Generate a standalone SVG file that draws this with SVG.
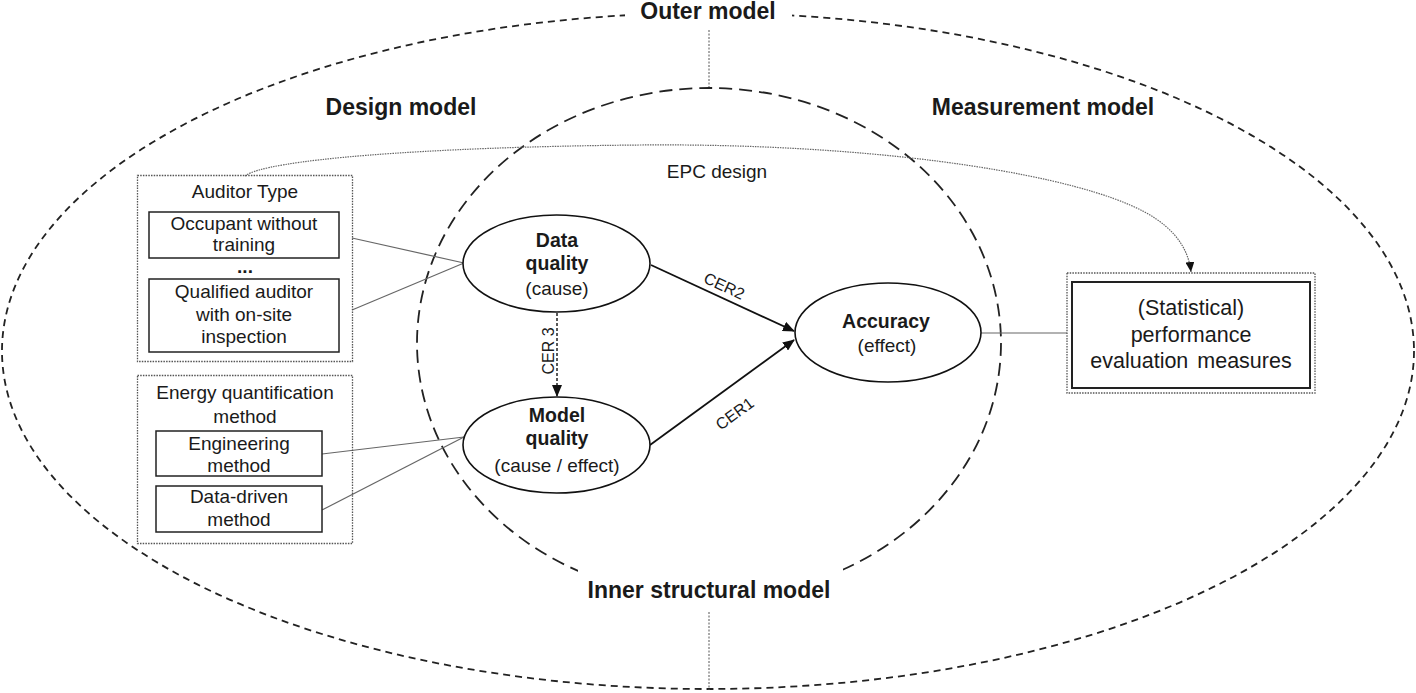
<svg xmlns="http://www.w3.org/2000/svg" width="1416" height="693" viewBox="0 0 1416 693">
<style>
text{font-family:"Liberation Sans",Arial,sans-serif;fill:#1a1a1a}
.big{font-size:23px;font-weight:bold;text-anchor:middle}
.t{font-size:19px;text-anchor:middle}
.r{font-size:21.5px;text-anchor:middle}
.b{font-size:19.5px;font-weight:bold;text-anchor:middle}
.lbl{font-size:16px;text-anchor:middle}
.dotbox{fill:none;stroke:#555;stroke-width:1.3;stroke-dasharray:1.5 1.2}
.box{fill:#fff;stroke:#222;stroke-width:1.5}
.node{fill:#fff;stroke:#111;stroke-width:1.6}
.thin{stroke:#666;stroke-width:1.2;fill:none}
.arr{stroke:#111;stroke-width:1.8;fill:none}
</style>
<defs>
<marker id="ah" markerWidth="12" markerHeight="10" refX="11" refY="5" orient="auto" markerUnits="userSpaceOnUse">
<path d="M0,0 L12,5 L0,10 Z" fill="#111"/>
</marker>
<marker id="ahs" markerWidth="10" markerHeight="9" refX="10" refY="4.5" orient="auto" markerUnits="userSpaceOnUse">
<path d="M0,0 L10,4.5 L0,9 Z" fill="#111"/>
</marker>
</defs>
<rect width="1416" height="693" fill="#fff"/>
<g id="outer-model">
<ellipse cx="708" cy="351" rx="706" ry="338" fill="none" stroke="#222" stroke-width="1.8" stroke-dasharray="7 5"/>
<line x1="709" y1="30" x2="709" y2="88" stroke="#555" stroke-width="1" stroke-dasharray="2 1.5"/>
<rect x="625" y="0" width="167" height="30" fill="#fff"/>
<text class="big" x="708" y="19">Outer model</text>
</g>
<g id="inner-model">
<ellipse cx="709" cy="343" rx="292" ry="255" fill="none" stroke="#222" stroke-width="1.8" stroke-dasharray="13 7"/>
<line x1="709" y1="612" x2="709" y2="690" stroke="#555" stroke-width="1" stroke-dasharray="2 1.5"/>
<rect x="578" y="566" width="265" height="44" fill="#fff"/>
<text class="big" x="709" y="598">Inner structural model</text>
</g>
<g id="labels">
<text class="big" x="401" y="115">Design model</text>
<text class="big" x="1043" y="115">Measurement model</text>
<text class="t" x="717" y="178">EPC design</text>
</g>
<g id="connectors">
<path class="thin" d="M245,176 C265,160 420,147 640,145 C860,143 1050,170 1130,205 C1170,222 1188,245 1191,272" stroke-dasharray="1.5 1" marker-end="url(#ahs)"/>
<line class="thin" x1="352" y1="238" x2="464" y2="263"/>
<line class="thin" x1="352" y1="310" x2="464" y2="263"/>
<line class="thin" x1="322" y1="454" x2="464" y2="437"/>
<line class="thin" x1="322" y1="510" x2="464" y2="437"/>
<line class="thin" x1="981" y1="333" x2="1067" y2="333"/>
<line class="arr" x1="651" y1="265" x2="794" y2="331" marker-end="url(#ah)"/>
<line class="arr" x1="650" y1="445" x2="794" y2="340" marker-end="url(#ah)"/>
<line x1="557" y1="313" x2="557" y2="396" stroke="#222" stroke-width="1.5" stroke-dasharray="3 2" marker-end="url(#ah)"/>
<text class="lbl" transform="translate(722,291) rotate(24.8)">CER2</text>
<text class="lbl" transform="translate(738,418) rotate(-36.3)">CER1</text>
<text class="lbl" transform="translate(554,351) rotate(-90)">CER 3</text>
</g>
<g id="auditor-type">
<rect class="dotbox" x="137.5" y="175.5" width="215" height="186"/>
<text class="t" x="245" y="198">Auditor Type</text>
<rect class="box" x="149" y="212" width="190" height="46"/>
<text class="t" x="244" y="230">Occupant without</text>
<text class="t" x="244" y="251">training</text>
<text class="t" x="245" y="273" font-weight="bold">...</text>
<rect class="box" x="149" y="279" width="190" height="73"/>
<text class="t" x="244" y="298">Qualified auditor</text>
<text class="t" x="244" y="321">with on-site</text>
<text class="t" x="244" y="343">inspection</text>
</g>
<g id="energy-method">
<rect class="dotbox" x="137.5" y="375.5" width="215" height="168"/>
<text class="t" x="245" y="399">Energy quantification</text>
<text class="t" x="245" y="423">method</text>
<rect class="box" x="156" y="431" width="166" height="45"/>
<text class="t" x="239" y="450">Engineering</text>
<text class="t" x="239" y="472">method</text>
<rect class="box" x="156" y="486" width="166" height="46"/>
<text class="t" x="239" y="503">Data-driven</text>
<text class="t" x="239" y="526">method</text>
</g>
<g id="data-quality">
<ellipse class="node" cx="556.5" cy="263.5" rx="93.5" ry="48.5"/>
<text class="b" x="557" y="247">Data</text>
<text class="b" x="557" y="270">quality</text>
<text class="t" x="557" y="295">(cause)</text>
</g>
<g id="model-quality">
<ellipse class="node" cx="556.5" cy="445" rx="93.5" ry="48"/>
<text class="b" x="557" y="422">Model</text>
<text class="b" x="557" y="445">quality</text>
<text class="t" x="557" y="472">(cause / effect)</text>
</g>
<g id="accuracy">
<ellipse class="node" cx="888" cy="332.5" rx="93" ry="49.5"/>
<text class="b" x="886" y="328">Accuracy</text>
<text class="t" x="887" y="352">(effect)</text>
</g>
<g id="performance">
<rect class="dotbox" x="1067" y="273" width="248" height="120"/>
<rect x="1072" y="282" width="238" height="106" fill="#fff" stroke="#222" stroke-width="2"/>
<text class="r" x="1191" y="315">(Statistical)</text>
<text class="r" x="1191" y="342">performance</text>
<text class="r" x="1191" y="368" style="word-spacing:3px">evaluation measures</text>
</g>
</svg>
